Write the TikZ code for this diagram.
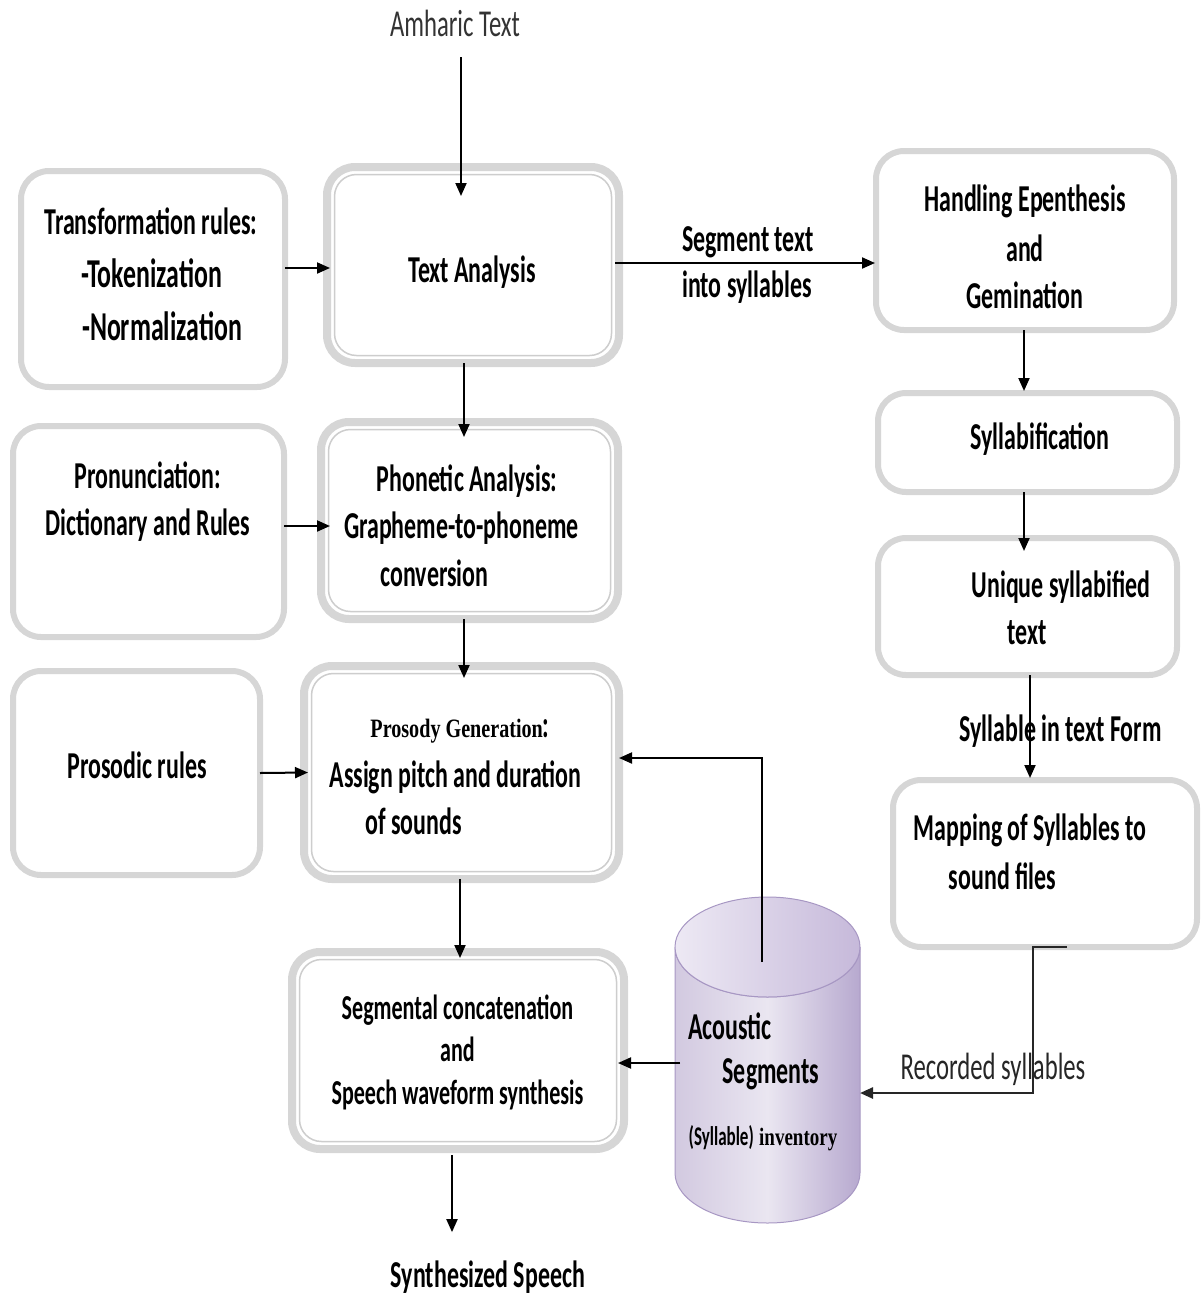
\documentclass[tikz,border=0pt]{standalone}
\usepackage{fontspec}
\setmainfont{Carlito}[FakeStretch=0.63]
\newfontfamily\lightfont{Carlito}[FakeStretch=0.65]
\newfontfamily\narrowserif{Liberation Serif}[FakeStretch=0.76]
\usetikzlibrary{arrows.meta}
\definecolor{band}{HTML}{D6D6D6}
\definecolor{bandline}{HTML}{CDCDCD}
\definecolor{cylL}{HTML}{D2C9E0}
\definecolor{cylM}{HTML}{EAE6F1}
\definecolor{cylR}{HTML}{B7A9CF}
\definecolor{cylTopL}{HTML}{EDE9F4}
\definecolor{cylTopR}{HTML}{C6B9DA}
\definecolor{cylEdge}{HTML}{A797C3}
% thin inner frame of the double-bordered process boxes
\newcommand\innerframe[1]{%
  \draw[bandline, line width=1.5pt, rounded corners=22pt]
    ([xshift=7.5pt,yshift=-7.5pt]#1.north west) rectangle
    ([xshift=-7.5pt,yshift=7.5pt]#1.south east);}
\begin{document}
\begin{tikzpicture}[x=1pt,y=-1pt,
  box/.style={draw=band, line width=6pt, rounded corners=28pt, inner sep=0pt,
    outer sep=0pt, fill=white},
  dbox/.style={box, line width=8pt},
  txt/.style={anchor=base, inner sep=0pt, font=\fontsize{38}{40}\selectfont\bfseries},
  bigtxt/.style={txt, font=\fontsize{41}{43}\selectfont\bfseries},
  segtxt/.style={txt, font=\fontsize{35}{37}\selectfont\bfseries},
  lighttxt/.style={anchor=base, inner sep=0pt, font=\lightfont\fontsize{38}{40}\selectfont},
  arr/.style={draw=black, line width=2pt, -{Triangle[length=13pt,width=11pt]}},
]
\useasboundingbox (0,0) rectangle (1200,1296);

% ---------- boxes ----------
\node[box, minimum width=264pt, minimum height=216pt] (tr) at (153,279) {};
\node[box, minimum width=271pt, minimum height=211pt] (pr) at (148.5,531.5) {};
\node[box, minimum width=247pt, minimum height=204pt] (ps) at (136.5,773) {};

\node[dbox, minimum width=292pt, minimum height=196pt] (ta) at (473,265) {};
\innerframe{ta}
\node[dbox, minimum width=297pt, minimum height=197pt] (pa) at (469.5,520.5) {};
\innerframe{pa}
\node[dbox, minimum width=315pt, minimum height=213pt] (pg) at (461.5,772.5) {};
\innerframe{pg}
\node[dbox, minimum width=332pt, minimum height=197pt] (sc) at (458,1050.5) {};
\innerframe{sc}

\node[box, minimum width=298pt, minimum height=179pt] (he) at (1025,240.5) {};
\node[box, minimum width=299pt, minimum height=99pt] (sy) at (1027.5,442.5) {};
\node[box, minimum width=299pt, minimum height=137pt] (us) at (1027.5,606.5) {};
\node[box, minimum width=304pt, minimum height=167pt] (ms) at (1045,863.5) {};

% ---------- acoustic segment store (cylinder) ----------
\node[minimum width=185pt, minimum height=326pt, inner sep=0pt, outer sep=0pt] (db) at (767.5,1060) {};
\draw[draw=cylEdge, line width=1pt, left color=cylL, right color=cylR, middle color=cylM]
  (675,947) -- (675,1173)
  arc[start angle=180, end angle=360, x radius=92.5pt, y radius=50pt]
  -- (860,947)
  arc[start angle=0, end angle=-180, x radius=92.5pt, y radius=50pt] -- cycle;
\draw[draw=cylEdge, line width=1pt, left color=cylTopL, right color=cylTopR]
  (767.5,947) ellipse[x radius=92.5pt, y radius=50pt];

% ---------- texts ----------
\node[lighttxt, text=black!80] (amh) at (455,36) {Amharic Text};

\node[txt] (tr1) at (151,234) {Transformation rules:};
\node[bigtxt] (tr2) at (151.5,287) {-Tokenization};
\node[bigtxt] (tr3) at (162,340) {-Normalization};

\node[txt] (ta1) at (472,282) {Text Analysis};

\node[txt] (seg1) at (748,251) {Segment text};
\node[txt] (seg2) at (747,297) {into syllables};

\node[txt] (he1) at (1025,211) {Handling Epenthesis};
\node[txt] (he2) at (1025,261) {and};
\node[txt] (he3) at (1025,308) {Gemination};

\node[txt] (sy1) at (1040,449) {Syllabification};

\node[txt] (us1) at (1061,597) {Unique syllabified};
\node[txt] (us2) at (1027,644) {text};

\node[txt] (stf) at (1060.5,741) {Syllable in text Form};

\node[txt] (ms1) at (1030,840) {Mapping of Syllables to};
\node[txt] (ms2) at (1002.5,889) {sound files};

\node[txt] (pr1) at (148,488) {Pronunciation:};
\node[txt] (pr2) at (148,535) {Dictionary and Rules};

\node[txt] (pa1) at (467,491) {Phonetic Analysis:};
\node[txt] (pa2) at (461.5,538) {Grapheme-to-phoneme};
\node[txt] (pa3) at (434.5,586) {conversion};

\node[txt] (ps1) at (137,778) {Prosodic rules};

\node[txt] (pg1) at (460,737) {{\narrowserif\fontsize{26.5}{28}\selectfont\bfseries Prosody Generation}:};
\node[txt] (pg2) at (455.5,787) {Assign pitch and duration};
\node[txt] (pg3) at (413.5,834) {of sounds};

\node[segtxt] (sc1) at (457.5,1019) {Segmental concatenation};
\node[segtxt] (sc2) at (457.5,1061) {and};
\node[segtxt] (sc3) at (457.5,1104) {Speech waveform synthesis};

\node[txt] (db1) at (730,1039) {Acoustic};
\node[txt] (db2) at (771,1083) {Segments};
\node[txt] (db3) at (763,1145) {{\fontsize{27}{30}\selectfont (Syllable)} {\narrowserif\fontsize{25}{28}\selectfont\bfseries inventory}};

\node[lighttxt, text=black!85] (rec) at (993,1079) {Recorded syllables};

\node[txt, font=\fontsize{38}{40}\selectfont\bfseries] (out) at (488,1287) {Synthesized Speech};

% ---------- connectors ----------
\draw[arr] ([xshift=6pt,yshift=-21pt]amh.south) -- ([xshift=-12pt,yshift=-29pt]ta.north);
\draw[arr] ([yshift=11pt]tr.east) -- ([xshift=3pt,yshift=-3pt]ta.west);
\draw[arr] ([xshift=-4pt,yshift=2pt]ta.east) -- ([xshift=-1pt,yshift=-22.5pt]he.west);
\draw[arr] ([xshift=-9pt]ta.south) -- ([xshift=-5.5pt,yshift=-15pt]pa.north);
\draw[arr] ([yshift=5.5pt]pr.east) -- ([xshift=9pt,yshift=-5.5pt]pa.west);
\draw[arr] ([xshift=-5.5pt]pa.south) -- ([xshift=2.5pt,yshift=-12pt]pg.north);
\draw[arr] (ps.east) -- ([xshift=4pt]pg.west);
\draw[arr] ([xshift=-5.5pt,yshift=-65pt]db.north) |- ([yshift=14.5pt]pg.east);
\draw[arr] ([xshift=-1.5pt]pg.south) -- ([xshift=2pt,yshift=-6pt]sc.north);
\draw[arr] ([xshift=5pt,yshift=-3pt]db.west) -- ([xshift=-6pt,yshift=-12.5pt]sc.east);
\draw[arr] ([xshift=-6pt,yshift=-6pt]sc.south) -- ([xshift=-36pt,yshift=28pt]out.north);
\draw[arr] ([xshift=-1pt]he.south) -- ([xshift=-3.5pt,yshift=2pt]sy.north);
\draw[arr] ([xshift=-3.5pt]sy.south) -- ([xshift=-3.5pt,yshift=-13pt]us.north);
\draw[arr] ([xshift=2.5pt]us.south) -- ([xshift=-15pt,yshift=2pt]ms.north);
\draw[arr, draw=black!85, line width=2.5pt] ([xshift=22pt]ms.south) -- ++(-34,0)
  |- ([yshift=-33pt]db.east);
\end{tikzpicture}
\end{document}
